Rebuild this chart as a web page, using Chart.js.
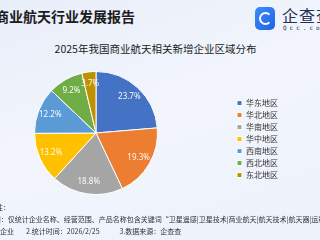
<!DOCTYPE html>
<html>
<head>
<meta charset="utf-8">
<script src="https://cdn.jsdelivr.net/npm/chart.js@4.4.1/dist/chart.umd.min.js"></script>
<style>
  html, body { margin: 0; padding: 0; }
  body {
    width: 320px; height: 240px; overflow: hidden; position: relative;
    background: linear-gradient(160deg, #e8eef9 0%, #f2f5fc 45%, #edf2fb 100%);
    font-family: "Noto Sans CJK SC", "Noto Sans", sans-serif;
  }
  .abs { position: absolute; white-space: nowrap; }
  #title { left: -5px; top: 6px; font-size: 14px; font-weight: bold; color: #1c1c1c; }
  #logo { left: 255px; top: 7px; width: 20px; height: 23px; border-radius: 5px;
    background: linear-gradient(135deg, #3d8cf8, #1f63e6); }
  #logo span { position: absolute; left: 4px; top: 5px; width: 9px; height: 9px;
    border: 2px solid #fff; border-right-color: transparent; border-radius: 50%; }
  #brand { left: 282px; top: 3px; font-size: 16px; color: #233252; letter-spacing: 1px; }
  #brand2 { left: 283px; top: 24px; font-size: 6px; color: #233252; letter-spacing: 3px; font-family: "DejaVu Sans Mono", monospace; }
  #subtitle { left: 0; width: 311px; top: 41px; text-align: center; font-size: 10.5px; color: #222; }
  .foot { font-size: 7px; color: #333; }
  #wrap { position: absolute; left: -41px; top: 60px; width: 361px; height: 145px; }
</style>
</head>
<body>
<div class="abs" id="title">商业航天行业发展报告</div>
<div class="abs" id="logo"><span></span></div>
<div class="abs" id="brand">企查查</div>
<div class="abs" id="brand2">Qcc.com</div>
<div class="abs" id="subtitle">2025年我国商业航天相关新增企业区域分布</div>
<div id="wrap"><canvas id="pieChart"></canvas></div>
<div class="abs foot" style="left:-11px; top:202px;">备注：</div>
<div class="abs foot" style="left:-33px; top:214px;">1.检索范围：仅统计企业名称、经营范围、产品名称包含关键词“卫星遥感|卫星技术|商业航天|航天技术|航天器|运载火箭|卫星导航”的企业</div>
<div class="abs foot" style="left:-7px; top:226px;">的企业<span style="padding-left:12px">2.统计时间：2026/2/25</span><span style="padding-left:20px">3.数据来源：企查查</span></div>
<script>
const regions = ["华东地区", "华北地区", "华南地区", "华中地区", "西南地区", "西北地区", "东北地区"];
const shares = [23.7, 19.3, 18.8, 13.2, 12.2, 9.2, 3.7];
const colors = ["#4472C4", "#ED7D31", "#A5A5A5", "#FFC000", "#5B9BD5", "#70AD47", "#BF9000"];

// percent labels drawn inside each slice
const sliceLabels = {
  id: "sliceLabels",
  afterDatasetsDraw(chart) {
    const c = chart.ctx;
    const arcs = chart.getDatasetMeta(0).data;
    c.save();
    c.fillStyle = "rgba(255,255,255,0.95)";
    c.font = "8px 'Noto Sans', sans-serif";
    c.textAlign = "center";
    c.textBaseline = "middle";
    arcs.forEach((arc, i) => {
      const mid = (arc.startAngle + arc.endAngle) / 2;
      const r = arc.outerRadius * 0.8;
      c.fillText(shares[i].toFixed(1) + "%", arc.x + Math.cos(mid) * r, arc.y + Math.sin(mid) * r);
    });
    c.restore();
  }
};

new Chart(document.getElementById("pieChart"), {
  type: "pie",
  data: {
    labels: regions,
    datasets: [{ data: shares, backgroundColor: colors, borderColor: "#fff", borderWidth: 1 }]
  },
  options: {
    responsive: true,
    maintainAspectRatio: false,
    animation: false,
    layout: { padding: { top: 11, bottom: 10, right: 32 } },
    plugins: {
      tooltip: { enabled: false },
      legend: {
        position: "right",
        title: { display: true, text: "", font: { size: 1 }, padding: { top: 6, bottom: 5 } },
        labels: {
          boxWidth: 5, boxHeight: 5, padding: 4, color: "#333",
          font: { size: 8, lineHeight: 1, family: "'Noto Sans CJK SC', sans-serif" }
        }
      }
    }
  },
  plugins: [sliceLabels]
});
</script>
</body>
</html>
